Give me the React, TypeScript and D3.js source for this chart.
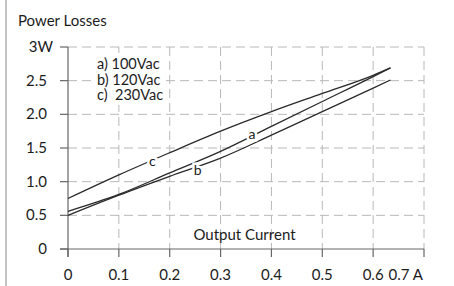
import React from "react";
import * as d3 from "d3";

const xTicks = [0, 0.1, 0.2, 0.3, 0.4, 0.5, 0.6, 0.7];
const xTickLabels = ["0", "0.1", "0.2", "0.3", "0.4", "0.5", "0.6", "0.7 A"];
const yTicks = [0, 0.5, 1.0, 1.5, 2.0, 2.5, 3];
const yTickLabels = ["0", "0.5", "1.0", "1.5", "2.0", "2.5", "3W"];

const curveX = [0, 0.1, 0.2, 0.3, 0.4, 0.5, 0.6, 0.634];
const seriesA = [0.56, 0.81, 1.13, 1.45, 1.82, 2.19, 2.56, 2.69];
const seriesB = [0.5, 0.8, 1.08, 1.35, 1.69, 2.04, 2.39, 2.51];
const seriesC = [0.75, 1.1, 1.43, 1.75, 2.04, 2.31, 2.58, 2.69];

const curveLabels = ["a", "b", "c"];
const labelPos = [
  [0.362, 1.7],
  [0.255, 1.16],
  [0.166, 1.29],
];
const legendLines = ["a) 100Vac", "b) 120Vac", "c)  230Vac"];

const FONT = "Lato, sans-serif";

export default function App() {
  const x = d3.scaleLinear().domain([0, 0.7]).range([68, 424]);
  const y = d3.scaleLinear().domain([0, 3]).range([249, 47]);
  const line = d3
    .line<number>()
    .x((_, i) => x(curveX[i]))
    .y((d) => y(d))
    .curve(d3.curveMonotoneX);
  const series = [seriesA, seriesB, seriesC];
  const grid = "#b8b8b8";
  const axis = "#666";
  const txt = "#1c1c1c";
  return (
    <svg
      width={454}
      height={286}
      style={{ position: "absolute", left: 0, top: 0, background: "#fff" }}
      fontFamily={FONT}
    >
      <line x1={6} x2={6} y1={0} y2={286} stroke="#888" strokeWidth={1} />
      <text x={18} y={26} fontSize={15} fill={txt}>
        Power Losses
      </text>
      {/* grid */}
      {yTicks.slice(1).map((t) => (
        <line
          key={"gy" + t}
          x1={x(0)}
          x2={x(0.7)}
          y1={y(t)}
          y2={y(t)}
          stroke={grid}
          strokeDasharray="9,5"
          strokeWidth={1}
        />
      ))}
      {xTicks.slice(1).map((t) => (
        <line
          key={"gx" + t}
          x1={x(t)}
          x2={x(t)}
          y1={y(3)}
          y2={y(0)}
          stroke={grid}
          strokeDasharray="9,5"
          strokeWidth={1}
        />
      ))}
      {/* legend background */}
      <rect x={94} y={53} width={72} height={52} fill="#fff" />
      {/* axes */}
      <line x1={x(0)} x2={x(0)} y1={y(3)} y2={y(0) + 8} stroke={axis} strokeWidth={1.2} />
      <line x1={x(0) - 8} x2={x(0.7)} y1={y(0)} y2={y(0)} stroke={axis} strokeWidth={1.2} />
      {yTicks.map((t) => (
        <line key={"ty" + t} x1={x(0) - 8} x2={x(0)} y1={y(t)} y2={y(t)} stroke={axis} strokeWidth={1.2} />
      ))}
      {xTicks.map((t) => (
        <line key={"tx" + t} x1={x(t)} x2={x(t)} y1={y(0)} y2={y(0) + 8} stroke={axis} strokeWidth={1.2} />
      ))}
      {yTicks.map((t, i) => (
        <text
          key={"ly" + t}
          x={i === yTicks.length - 1 ? 53 : 47}
          y={y(t) + 5}
          fontSize={15}
          textAnchor="end"
          fill={txt}
        >
          {yTickLabels[i]}
        </text>
      ))}
      {xTicks.map((t, i) => (
        <text
          key={"lx" + t}
          x={i === xTicks.length - 1 ? x(t) - 1 : x(t)}
          y={280}
          fontSize={15}
          textAnchor={i === xTicks.length - 1 ? "end" : "middle"}
          fill={txt}
        >
          {xTickLabels[i]}
        </text>
      ))}
      <text x={244.5} y={240} fontSize={15} textAnchor="middle" fill={txt}>
        Output Current
      </text>
      {legendLines.map((s, i) => (
        <text key={s} x={97} y={69.3 + i * 15.5} fontSize={14.5} fill={txt} style={{ whiteSpace: "pre" }}>
          {s}
        </text>
      ))}
      {series.map((s, i) => (
        <path key={"s" + i} d={line(s) || ""} fill="none" stroke="#2a2a2a" strokeWidth={1.3} />
      ))}
      {curveLabels.map((l, i) => (
        <text
          key={"cl" + l}
          x={x(labelPos[i][0])}
          y={y(labelPos[i][1]) + 4}
          fontSize={14}
          textAnchor="middle"
          fill={txt}
          stroke="#fff"
          strokeWidth={5}
          paintOrder="stroke"
        >
          {l}
        </text>
      ))}
    </svg>
  );
}
